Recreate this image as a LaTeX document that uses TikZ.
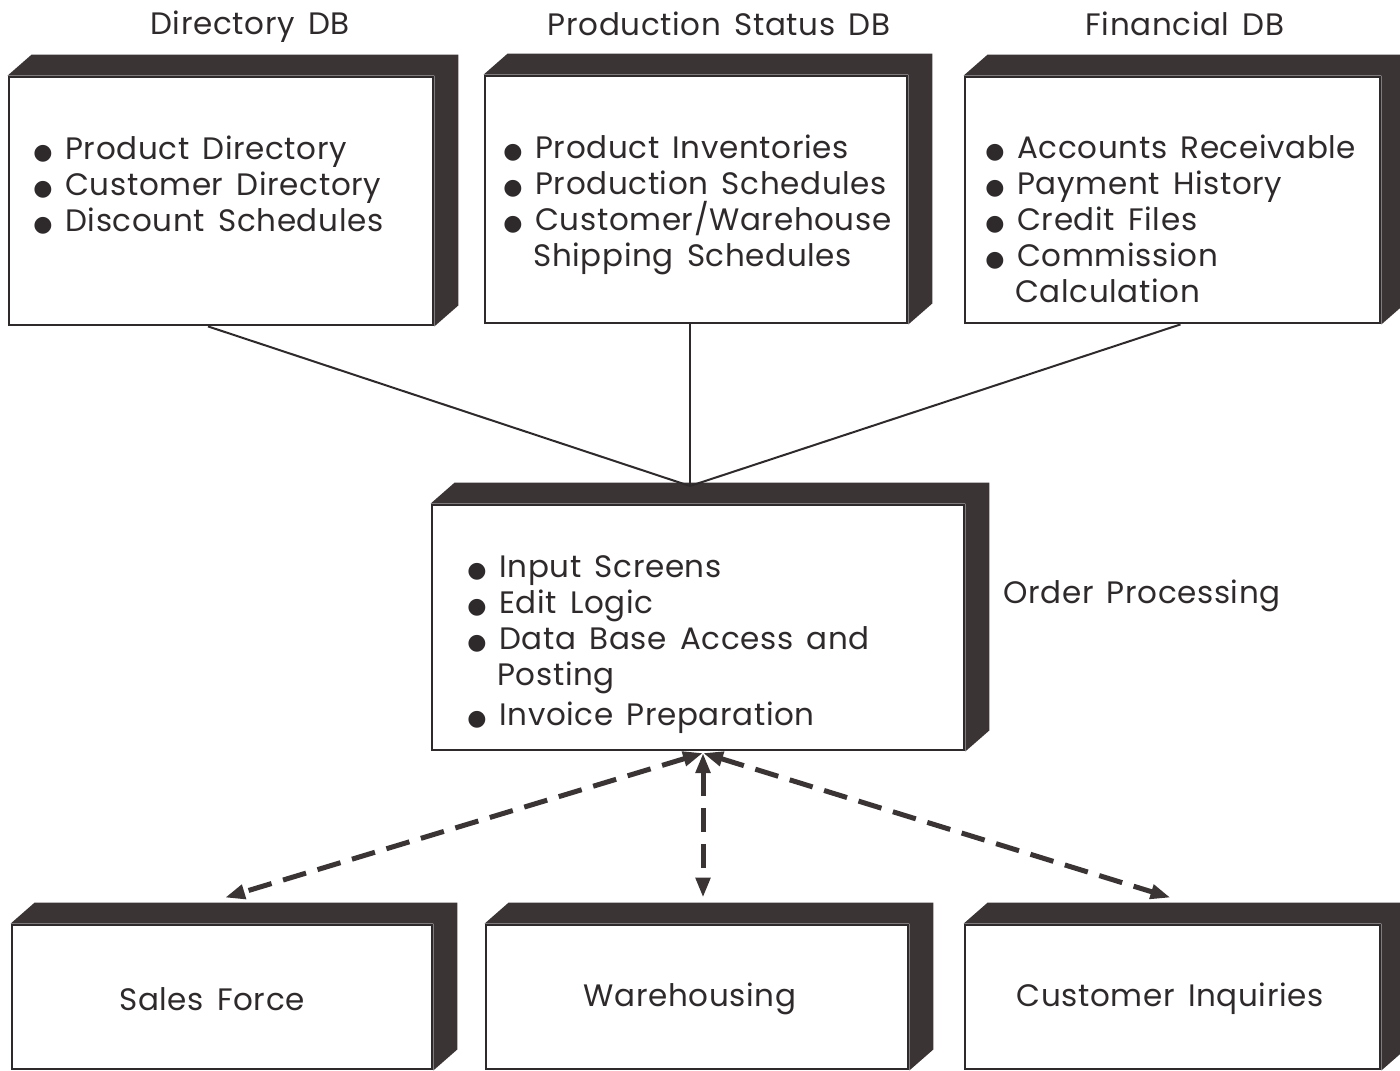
\documentclass[tikz,border=0pt]{standalone}
\usepackage{fontspec}
\setmainfont[LetterSpace=2,WordSpace=1.5]{Poppins}
\newfontfamily\symfont{DejaVu Sans}
\usetikzlibrary{arrows.meta,positioning,backgrounds}

\definecolor{ink}{HTML}{2E2A2B}
\definecolor{slab}{HTML}{3A3435}

\newcommand{\dotitem}{\makebox[16pt][l]{{\symfont\fontsize{11}{11}\selectfont ●}}}
\newcommand{\hang}{\hspace*{15pt}}

\tikzset{
  face/.style={draw=ink, line width=1.4pt, fill=white, inner sep=0pt},
  items/.style={text=ink, align=left, inner sep=0pt, font=\fontsize{15.5}{18}\selectfont},
  dbtitle/.style={text=ink, inner sep=0pt, font=\fontsize{15.5}{18}\selectfont},
  link/.style={draw=ink, line width=1pt},
  flow/.style={draw=slab, line width=2.5pt, dash pattern=on 12pt off 6pt,
    {Triangle[length=10pt,width=7pt]}-{Triangle[length=10pt,width=7pt]}}
}

\begin{document}
\begin{tikzpicture}[x=0.5pt,y=-0.5pt]
	\useasboundingbox (0,0) rectangle (1400,1070);
	% front faces of the boxes
	\node[face, minimum width=212pt, minimum height=124pt] (dir) at (221,201) {};
	\node[face, minimum width=211pt, minimum height=123.5pt] (prod) at (696,199.5) {};
	\node[face, minimum width=207.5pt, minimum height=123pt] (fin) at (1172.5,200) {};
	\node[face, minimum width=266pt, minimum height=122.5pt] (order) at (698,627.5) {};
	\node[face, minimum width=210pt, minimum height=72pt] (sales) at (222,997) {};
	\node[face, minimum width=211pt, minimum height=72pt] (ware) at (697,997) {};
	\node[face, minimum width=207.5pt, minimum height=72pt] (inq) at (1172.5,997) {};
	% dark top and side of each box
	\begin{scope}[on background layer]
	\foreach \b in {dir,prod,fin,order,sales,ware,inq}
		\fill[slab] (\b.north west) -- ++(24,-21) -- ([shift={(24,-21)}]\b.north east)
		-- ([shift={(24,-21)}]\b.south east) -- (\b.south east) -- (\b.north east) -- cycle;
	\end{scope}
	% titles
	\node[dbtitle] (dirtitle) at (250,27) {Directory DB};
	\node[dbtitle] (prodtitle) at (719,24) {Production Status DB};
	\node[dbtitle] (fintitle) at (1185,24) {Financial DB};
	% contents
	\node[items, anchor=north west] (dirlist) at (33,136)
		{\dotitem Product Directory\\ \dotitem Customer Directory\\ \dotitem Discount Schedules};
	\node[items, anchor=north west] (prodlist) at (503,135)
		{\dotitem Product Inventories\\ \dotitem Production Schedules\\
		 \dotitem Customer/Warehouse\\ \hang Shipping Schedules};
	\node[items, anchor=north west] (finlist) at (985,135)
		{\dotitem Accounts Receivable\\ \dotitem Payment History\\ \dotitem Credit Files\\
		 \dotitem Commission\\ \hang Calculation};
	\node[items, anchor=north west] (orderlist) at (467,555)
		{\dotitem Input Screens\\ \dotitem Edit Logic\\ \dotitem Data Base Access and\\
		 \hang Posting\\[2pt] \dotitem Invoice Preparation};
	\node[items, anchor=west] (ordername) at (1003,596) {Order Processing};
	\node[items] (salesname) at (212,999) {Sales Force};
	\node[items] (warename) at (690,999) {Warehousing};
	\node[items] (inqname) at (1170,999) {Customer Inquiries};
	% solid links into order processing
	\coordinate (hub) at (690,486);
	\draw[link] ([xshift=-6.5pt]dir.south) -- (hub);
	\draw[link] ([xshift=-3pt]prod.south) -- (hub);
	\draw[link] ([xshift=4pt]fin.south) -- (hub);
	% dashed two-way flows
	\coordinate (apex) at (703,753);
	\draw[flow] (apex) -- ([xshift=1.5pt,yshift=13pt]sales.north);
	\draw[flow] (apex) -- ([xshift=3pt,yshift=13pt]ware.north);
	\draw[flow] (apex) -- ([xshift=-1pt,yshift=13pt]inq.north);
\end{tikzpicture}
\end{document}
